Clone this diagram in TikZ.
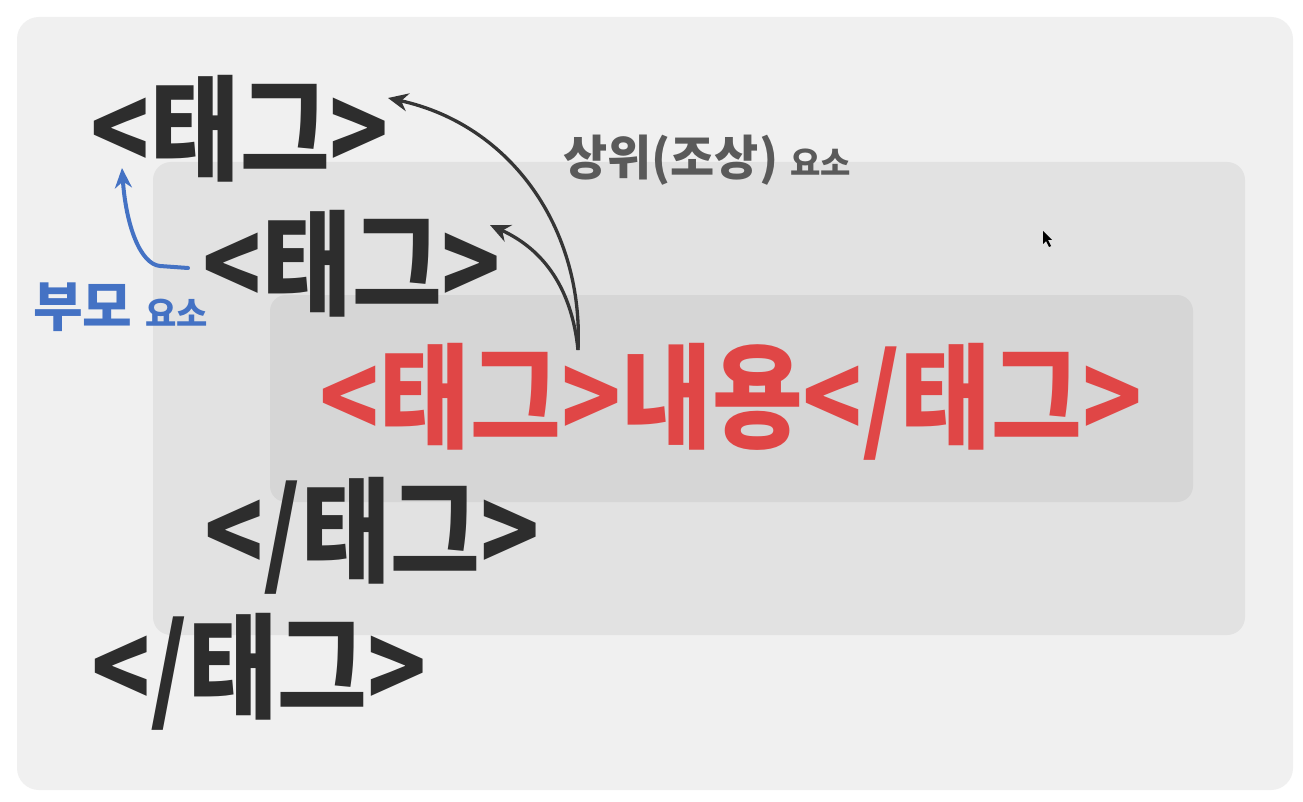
\documentclass[tikz,border=0pt]{standalone}
\usepackage{fontspec}
\newfontfamily\krb{Noto Sans CJK KR}[FakeStretch=0.855]
\newfontfamily\krr{Noto Sans CJK KR}[FakeStretch=0.865]
\newfontfamily\kr{Noto Sans CJK KR}
\usetikzlibrary{arrows.meta}
\definecolor{bgout}{HTML}{F0F0F0}
\definecolor{bgmid}{HTML}{E2E2E2}
\definecolor{bgin}{HTML}{D6D6D6}
\definecolor{tagdark}{HTML}{2D2D2D}
\definecolor{tagred}{HTML}{E04646}
\definecolor{labgray}{HTML}{5A5A5A}
\definecolor{labblue}{HTML}{4472C4}
\definecolor{arrowdark}{HTML}{353535}
\tikzset{
  tag/.style={font=\krb\bfseries\fontsize{114}{114}\selectfont, text=tagdark, inner sep=0pt},
  redtag/.style={font=\krr\bfseries\fontsize{114}{114}\selectfont, text=tagred, inner sep=0pt},
  ancarrow/.style={draw=arrowdark, line width=3.3pt, -{Stealth[length=20pt,width=18pt]}},
  parentarrow/.style={draw=labblue, line width=4pt, line cap=round, -{Stealth[length=20pt,width=17pt]}},
}
\begin{document}
\begin{tikzpicture}[x=1pt,y=-1pt]
\useasboundingbox (0,0) rectangle (1303,802);
\fill[white] (0,0) rectangle (1303,802);
\fill[bgout, rounded corners=22pt] (17,17) rectangle (1293,790);
\fill[bgmid, rounded corners=18pt] (153,162) rectangle (1245,635);
\fill[bgin, rounded corners=16pt] (270,295) rectangle (1193,502);

\node[tag] (t1) at (240,129) {<태그>};
\node[tag] (t2) at (352,264) {<태그>};
\node[redtag] (c) at (731,402) {<태그>내용</태그>};
\node[tag] (t3) at (372,536) {</태그>};
\node[tag] (t4) at (259,672) {</태그>};

\node[font=\kr\bfseries\fontsize{48}{48}\selectfont, text=labgray, inner sep=0pt, anchor=west] (anc) at (563,160) {상위(조상)\hspace{12pt}{\fontsize{33}{33}\selectfont 요소}};
\node[font=\kr\bfseries\fontsize{54}{54}\selectfont, text=labblue, inner sep=0pt, anchor=west] (par) at (33,307) {부모\hspace{13pt}{\fontsize{34}{34}\selectfont 요소}};

\coordinate (s1) at (578,350);
\coordinate (e1) at (388,98);
\coordinate (e2) at (490,225);
\draw[ancarrow] (s1) .. controls (584,230) and (512,125) .. (e1);
\draw[ancarrow] (s1) .. controls (572,290) and (545,250) .. (e2);

\coordinate (bs) at (188,268);
\coordinate (be) at (122,168);
\draw[parentarrow] (bs) -- (160,266) .. controls (140,264) and (126,225) .. (be);

\fill[black] (1043,231) -- (1043,244) -- (1046,241) -- (1049,247) -- (1051,246) -- (1048,240) -- (1052,240) -- cycle;
\end{tikzpicture}
\end{document}
